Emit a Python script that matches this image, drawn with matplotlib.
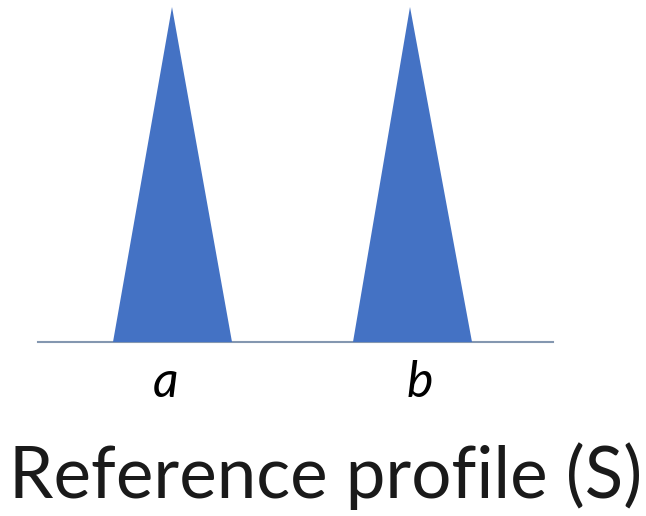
import matplotlib
matplotlib.use("Agg")
import matplotlib.pyplot as plt

# Data
peak_labels = ["a", "b"]
peak_left = [113, 353]
peak_apex = [172, 410]
peak_right = [232, 472]
peak_height = [335, 335]
title = "Reference profile (S)"

# Layout
label_x = [166, 420]

fig = plt.figure(figsize=(6.46, 5.16), dpi=100)
ax = fig.add_axes([0, 0, 1, 1])
ax.set_xlim(0, 646)
ax.set_ylim(0, 516)
ax.axis("off")

base_y = 516 - 342
ax.plot([38, 553], [base_y, base_y], color="#8497B0", lw=1.5, zorder=1)

for lab, lx, l, a, r, h in zip(peak_labels, label_x, peak_left, peak_apex, peak_right, peak_height):
    ax.fill([l, a, r], [base_y, base_y + h, base_y], color="#4472C4", zorder=2, lw=0)
    ax.text(lx, 516 - 397, lab, ha="center", va="baseline", fontsize=36,
            style="italic", family="Lato", color="black")

ax.text(326, 516 - 498, title, ha="center", va="baseline", fontsize=51,
        family="Lato", color="#1a1a1a")

fig.savefig("out.png", dpi=100)
